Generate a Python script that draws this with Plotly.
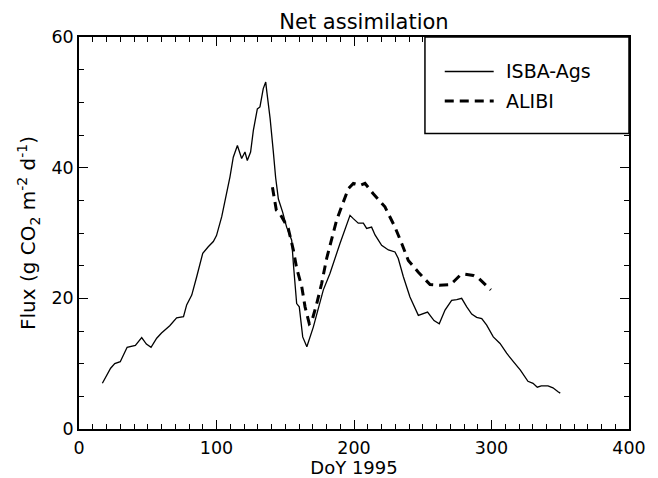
import plotly.graph_objects as go

# ISBA-Ags (solid)
isba_doy = [17, 21, 23, 26, 30, 35, 41, 45.6, 49, 52.4, 56.5, 60, 66, 71, 76, 78.3, 82, 85.6, 90, 94, 97.7, 100,
            103.8, 109.8, 112.2, 115.2, 118.3, 120.7, 122.4, 124.8, 126.8, 129.7, 131.6, 134, 135.8, 136.5,
            139, 141.3, 143, 145, 148.1, 151, 154.7, 155.9, 158.3, 160.2, 162.7, 165.7, 170.4, 177.7, 182.5,
            189.8, 194.2, 197.1, 199.5, 203.1, 206.8, 209.2, 212.8, 215.3, 220.1, 225, 229.8, 232.2, 235.9,
            240.7, 246.8, 250.4, 253.5, 258.2, 262, 266.2, 271, 274.7, 278.3, 282, 285.6, 289.2, 292.9, 296.5,
            301.3, 306.2, 311, 315.9, 321, 326.5, 330.2, 333.3, 336.2, 341.1, 344.7, 348.4, 350]
isba_flux = [7.0, 8.6, 9.3, 10.0, 10.3, 12.5, 12.8, 14.0, 13.0, 12.5, 13.9, 14.7, 15.8, 17.0, 17.2, 19.0, 20.5, 23.3,
             26.9, 27.9, 28.7, 29.6,
             32.5, 38.6, 41.6, 43.4, 41.4, 42.4, 41.1, 42.4, 45.7, 49.0, 49.3, 52.1, 53.1, 51.8,
             47.5, 42.5, 38.5, 35.2, 33.2, 30.9, 28.9, 25.3, 19.2, 18.7, 14.1, 12.6, 15.6, 21.3, 23.8,
             28.4, 30.9, 32.7, 32.2, 31.5, 31.5, 30.7, 30.9, 29.7, 28.1, 27.4, 27.1, 26.1, 23.3,
             20.2, 17.4, 17.7, 17.9, 16.6, 16.1, 18.2, 19.7, 19.8, 20.0, 18.7, 17.6, 17.1, 16.9, 15.9,
             14.1, 13.1, 11.6, 10.3, 9.0, 7.3, 7.0, 6.4, 6.6, 6.6, 6.3, 5.7, 5.5]

# ALIBI (dashed)
alibi_doy = [140.7, 142.5, 143.5, 146, 152.2, 155.9, 158.3, 162, 164.4, 167.5, 169.2, 172.9, 176.5, 180.1, 183.8,
             187.4, 191.8, 195.9, 199.5, 204.4, 208, 214, 222.5, 229.8, 234.7, 239.5, 246.8, 255.3, 262, 270,
             272.2, 277, 280.7, 286.8, 291, 298, 299.5]
alibi_flux = [37.0, 35.0, 33.5, 33.0, 30.7, 27.4, 24.6, 21.8, 18.7, 16.1, 16.4, 19.2, 22.3, 26.1, 28.9,
              32.0, 34.5, 36.8, 37.6, 37.3, 37.6, 36.0, 34.0, 30.9, 28.4, 25.8, 24.0, 22.1, 22.0, 22.1,
              22.5, 23.5, 23.7, 23.5, 23.0, 21.6, 21.3]

series_names = ["ISBA-Ags", "ALIBI"]
x_ticks = [0, 100, 200, 300, 400]
y_ticks = [0, 20, 40, 60]

FONT = "DejaVu Sans, Liberation Sans, sans-serif"

fig = go.Figure()
fig.add_trace(go.Scatter(x=isba_doy, y=isba_flux, mode="lines", name=series_names[0],
                         line=dict(color="black", width=1.3), showlegend=False))
fig.add_trace(go.Scatter(x=alibi_doy, y=alibi_flux, mode="lines", name=series_names[1],
                         line=dict(color="black", width=3, dash="9px,6px"), showlegend=False))

axis_common = dict(showline=True, linecolor="black", linewidth=1.5, mirror="ticks",
                   ticks="inside", ticklen=9, tickwidth=1.2, tickcolor="black",
                   showgrid=False, zeroline=False, automargin=False,
                   tickfont=dict(family=FONT, size=17.5, color="black"))

fig.update_xaxes(range=[0, 400], tickvals=x_ticks, ticktext=[str(v) for v in x_ticks],
                 minor=dict(dtick=10, tick0=0, ticks="inside", ticklen=5, tickcolor="black", tickwidth=1),
                 ticklabelstandoff=2,
                 title=dict(text="DoY 1995", font=dict(family=FONT, size=18, color="black"), standoff=7),
                 **axis_common)
fig.update_yaxes(range=[0, 60], tickvals=y_ticks, ticktext=[str(v) for v in y_ticks],
                 minor=dict(dtick=5, tick0=0, ticks="inside", ticklen=5, tickcolor="black", tickwidth=1),
                 title=dict(text="Flux (g CO<sub>2</sub> m<sup>-2</sup> d<sup>-1</sup>)",
                            font=dict(family=FONT, size=20, color="black"), standoff=10),
                 **axis_common)

# legend box (drawn)
lx0, lx1, ly0, ly1 = 0.629, 1.0, 0.754, 1.0
fig.add_shape(type="rect", xref="paper", yref="paper", x0=lx0, x1=lx1, y0=ly0, y1=ly1,
              line=dict(color="black", width=1.5), fillcolor="white", layer="above")
fig.add_shape(type="line", xref="paper", yref="paper", x0=0.665, x1=0.754, y0=0.912, y1=0.912,
              line=dict(color="black", width=1.3))
fig.add_shape(type="line", xref="paper", yref="paper", x0=0.665, x1=0.754, y0=0.837, y1=0.837,
              line=dict(color="black", width=3, dash="9px,6px"))
for name, yy in zip(series_names, [0.912, 0.837]):
    fig.add_annotation(xref="paper", yref="paper", x=0.772, y=yy, text=name, showarrow=False,
                       xanchor="left", yanchor="middle", font=dict(family=FONT, size=19, color="black"))

# the page body has an 8px default margin, so the figure is 8px smaller and margins compensate
fig.update_layout(
    width=650, height=470,
    margin=dict(l=71, r=29, t=28.5, b=49),
    paper_bgcolor="white", plot_bgcolor="white",
    title=dict(text="Net assimilation", x=0.5477, xanchor="center", y=0.971, yanchor="middle",
               font=dict(family=FONT, size=21, color="black")),
)

fig.write_html("out.html")
